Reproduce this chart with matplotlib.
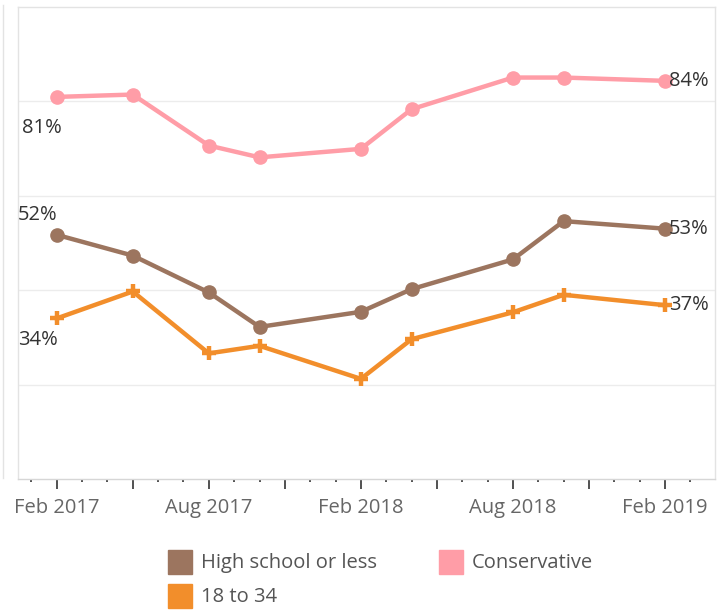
import matplotlib
matplotlib.use("Agg")
import matplotlib.pyplot as plt
from matplotlib.lines import Line2D
from matplotlib.patches import Rectangle
import pandas as pd

plt.rcParams['font.family'] = ['Open Sans', 'DejaVu Sans']

# survey waves
dates = ['2017-02', '2017-05', '2017-08', '2017-10', '2018-02',
         '2018-04', '2018-08', '2018-10', '2019-02']
series_names = ['High school or less', '18 to 34', 'Conservative']
high_school = [51.7, 47.3, 39.5, 32.2, 35.4, 40.2, 46.5, 54.6, 53.0]
young = [34.0, 39.7, 26.6, 28.2, 21.2, 29.6, 35.3, 39.0, 36.8]
conservative = [80.9, 81.4, 70.6, 68.1, 69.9, 78.3, 85.0, 85.0, 84.3]
first_labels = ['52%', '34%', '81%']
last_labels = ['53%', '37%', '84%']
tick_labels = ['Feb 2017', 'Aug 2017', 'Feb 2018', 'Aug 2018', 'Feb 2019']

colors = ['#9c755f', '#f28e2b', '#ff9da7']
markers = ['o', 'P', 'o']
FS = 14.5

# months since Feb 2017
per = pd.PeriodIndex(dates, freq='M')
x = [(p - per[0]).n for p in per]

fig = plt.figure(figsize=(7.27, 6.11), dpi=100)
ax = fig.add_axes([17.7 / 727, 1 - 479 / 611, (715 - 17.7) / 727, (479 - 6.7) / 611])

values = [high_school, young, conservative]
for vals, c, m in zip(values, colors, markers):
    if m == 'P':
        ax.plot(x, vals, color=c, lw=3.2, marker='+', ms=10, mew=3.2,
                solid_capstyle='round', zorder=3)
    else:
        ax.plot(x, vals, color=c, lw=3.2, marker='o', ms=9.5,
                solid_capstyle='round', zorder=3)

# first / last value labels
first_off = [(-39, 20), (-39, -22), (-35, -31)]
for vals, lab, off in zip(values, first_labels, first_off):
    ax.annotate(lab, (x[0], vals[0]), xytext=off, textcoords='offset pixels',
                ha='left', va='center', fontsize=FS, color='#333333')
for vals, lab in zip(values, last_labels):
    ax.annotate(lab, (x[-1], vals[-1]), xytext=(4, 0), textcoords='offset pixels',
                ha='left', va='center', fontsize=FS, color='#333333')

ax.set_ylim(0, 100)
ax.set_xlim(-1.54, 25.97)
ax.set_yticks([20, 40, 60, 80])
ax.yaxis.grid(True, color='#ececec', lw=1)
ax.tick_params(axis='y', length=0, labelleft=False)
ax.set_axisbelow(True)

ax.set_xticks(range(0, 25, 3))
ax.set_xticklabels([tick_labels[i // 2] if i % 2 == 0 else '' for i in range(9)])
ax.set_xticks(range(-1, 26), minor=True)
ax.tick_params(axis='x', which='major', length=7, width=1.1, color='#222222',
               labelsize=FS, labelcolor='#666666', pad=7)
ax.tick_params(axis='x', which='minor', length=2.5, width=1.1, color='#222222')

for s in ['top', 'right', 'left']:
    ax.spines[s].set_color('#e3e3e3')
    ax.spines[s].set_linewidth(1)
ax.spines['bottom'].set_color('#d6d6d6')
ax.spines['bottom'].set_linewidth(1)

# left pane border
fig.add_artist(Line2D([3 / 727, 3 / 727], [1 - 5 / 611, 1 - 478 / 611],
                      color='#e3e3e3', lw=1))

# legend
legend_pos = [(168, 550), (168, 584), (439, 550)]
for name, c, (lx, ly) in zip(series_names, colors, legend_pos):
    fig.add_artist(Rectangle((lx / 727, 1 - (ly + 24) / 611), 24 / 727, 24 / 611,
                             color=c, transform=fig.transFigure))
    fig.text((lx + 33) / 727, 1 - (ly + 13) / 611, name, ha='left', va='center',
             fontsize=FS, color='#555555')

fig.savefig('out.png', dpi=100)
